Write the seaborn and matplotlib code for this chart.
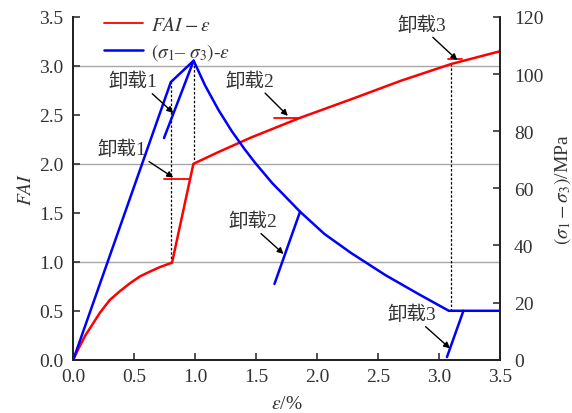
import matplotlib
matplotlib.use("Agg")
import matplotlib.pyplot as plt
import seaborn as sns
import pandas as pd

sns.set_style("ticks")
plt.rcParams["font.family"] = ["Liberation Serif", "Noto Sans CJK SC"]
plt.rcParams["mathtext.fontset"] = "stix"
plt.rcParams["axes.unicode_minus"] = True

# FAI versus strain
eps_fai = [0, 0.05, 0.10, 0.137, 0.219, 0.30, 0.383, 0.465, 0.547, 0.63, 0.71, 0.81,
           0.985, 1.19, 1.46, 1.86, 2.28, 2.69, 3.10, 3.50]
fai = [0, 0.13, 0.25, 0.32, 0.48, 0.61, 0.70, 0.78, 0.85, 0.90, 0.945, 0.99,
       2.00, 2.12, 2.27, 2.47, 2.66, 2.85, 3.02, 3.15]

# deviatoric stress versus strain (MPa)
eps_sig = [0, 0.80, 0.987, 1.08, 1.19, 1.30, 1.40, 1.49, 1.63, 1.86, 2.06, 2.28,
           2.56, 2.83, 3.08, 3.50]
sig = [0, 97.2, 104.7, 96.1, 87.5, 80.0, 74.0, 69.0, 61.9, 51.8, 44.0, 37.3,
       29.6, 23.0, 17.1, 17.1]

# unloading branches
fai_unload_x = [[0.74, 0.95], [1.65, 1.86], [3.07, 3.19]]
fai_unload_y = [[1.85, 1.85], [2.47, 2.47], [3.07, 3.07]]
sig_unload_x = [[0.744, 0.987], [1.65, 1.86], [3.065, 3.20]]
sig_unload_y = [[77.6, 104.7], [26.5, 51.8], [0.9, 17.1]]

# dashed guides: strain, lower FAI, upper FAI
guide_x = [0.80, 0.987, 3.096]
guide_lo = [0.99, 2.00, 17.1 * 3.5 / 120]
guide_hi = [97.2 * 3.5 / 120, 104.7 * 3.5 / 120, 3.02]

x_ticks = [0.0, 0.5, 1.0, 1.5, 2.0, 2.5, 3.0, 3.5]
fai_ticks = [0.0, 0.5, 1.0, 1.5, 2.0, 2.5, 3.0, 3.5]
sig_ticks = [0, 20, 40, 60, 80, 100, 120]

txt = "#333333"
red = "#ff0000"
blue = "#0000ff"

fig = plt.figure(figsize=(5.72, 4.14), dpi=100)
ax = fig.add_axes([73.3 / 572, 1 - 360.6 / 414, (500 - 73.3) / 572, 342.6 / 414])
ax2 = ax.twinx()

for g in [1.0, 2.0, 3.0]:
    ax.axhline(g, color="#a8a8a8", lw=1.0, zorder=0)

for gx, lo, hi in zip(guide_x, guide_lo, guide_hi):
    ax.plot([gx, gx], [lo, hi], color="black", lw=0.9, ls=(0, (2, 1.5)), zorder=1)

df_fai = pd.DataFrame({"eps": eps_fai, "fai": fai})
sns.lineplot(data=df_fai, x="eps", y="fai", ax=ax, color=red, lw=1.8, sort=False,
             estimator=None, legend=False)
for xs, ys in zip(fai_unload_x, fai_unload_y):
    sns.lineplot(x=xs, y=ys, ax=ax, color=red, lw=1.3, sort=False, estimator=None, legend=False)

df_sig = pd.DataFrame({"eps": eps_sig, "sig": sig})
sns.lineplot(data=df_sig, x="eps", y="sig", ax=ax2, color=blue, lw=1.8, sort=False,
             estimator=None, legend=False)
for xs, ys in zip(sig_unload_x, sig_unload_y):
    sns.lineplot(x=xs, y=ys, ax=ax2, color=blue, lw=1.8, sort=False, estimator=None, legend=False)

for line in ax.lines + ax2.lines:
    line.set_solid_joinstyle("round")

ax.set_xlim(0, 3.5)
ax.set_ylim(0, 3.5)
ax2.set_ylim(0, 120)
ax.set_xticks(x_ticks)
ax.set_xticklabels([f"{v:.1f}" for v in x_ticks])
ax.set_yticks(fai_ticks)
ax.set_yticklabels([f"{v:.1f}" for v in fai_ticks])
ax2.set_yticks(sig_ticks)
ax2.set_yticklabels([str(v) for v in sig_ticks])

for a in (ax, ax2):
    a.tick_params(direction="in", length=5, width=1.2, labelsize=14, colors=txt)
    a.spines["top"].set_visible(False)
    for s in ("left", "right", "bottom"):
        a.spines[s].set_linewidth(1.3)
        a.spines[s].set_color("#222222")
ax.tick_params(axis="x", pad=6)
ax.tick_params(axis="y", pad=7)
ax2.tick_params(axis="y", pad=10)

ax.set_xlabel(r"$\varepsilon$/%", fontsize=14, color=txt, labelpad=7)
ax.set_ylabel(r"$FAI$", fontsize=14, color=txt, labelpad=3)
ax2.set_ylabel(r"$(\sigma_1-\sigma_3)$/MPa", fontsize=14, color=txt, labelpad=6)
ax2.set_xlabel("")

handles = [plt.Line2D([], [], color=red, lw=1.3), plt.Line2D([], [], color=blue, lw=1.8)]
labels = [r"$FAI-\varepsilon$", r"$(\sigma_1$– $\sigma_3)$-$\varepsilon$"]
leg = ax2.legend(handles, labels, loc="upper left", bbox_to_anchor=(0.032, 1.055), frameon=False,
                 fontsize=14, handlelength=2.0, labelspacing=0.4, handletextpad=0.4)
for t in leg.get_texts():
    t.set_color(txt)

arrow = dict(arrowstyle="-|>", color="black", lw=1.0, mutation_scale=9, shrinkA=0, shrinkB=0)

def note(axis, text, xy, xytext, rel):
    props = dict(arrow)
    props["relpos"] = rel
    axis.annotate(text, xy=xy, xytext=xytext, ha="center", va="center", fontsize=14,
                  color=txt, arrowprops=props)

note(ax2, "卸载1", (0.82, 86.4), (0.49, 97.5), (0.82, 0.0))
note(ax, "卸载1", (0.82, 1.86), (0.40, 2.15), (0.95, 0.0))
note(ax, "卸载2", (1.76, 2.49), (1.45, 2.85), (0.74, 0.0))
note(ax2, "卸载2", (1.725, 37.0), (1.47, 48.5), (0.6, 0.0))
note(ax, "卸载3", (3.15, 3.06), (2.86, 3.42), (0.65, 0.0))
note(ax2, "卸载3", (3.09, 3.9), (2.78, 15.9), (0.7, 0.0))

fig.savefig("out.png", dpi=100)
